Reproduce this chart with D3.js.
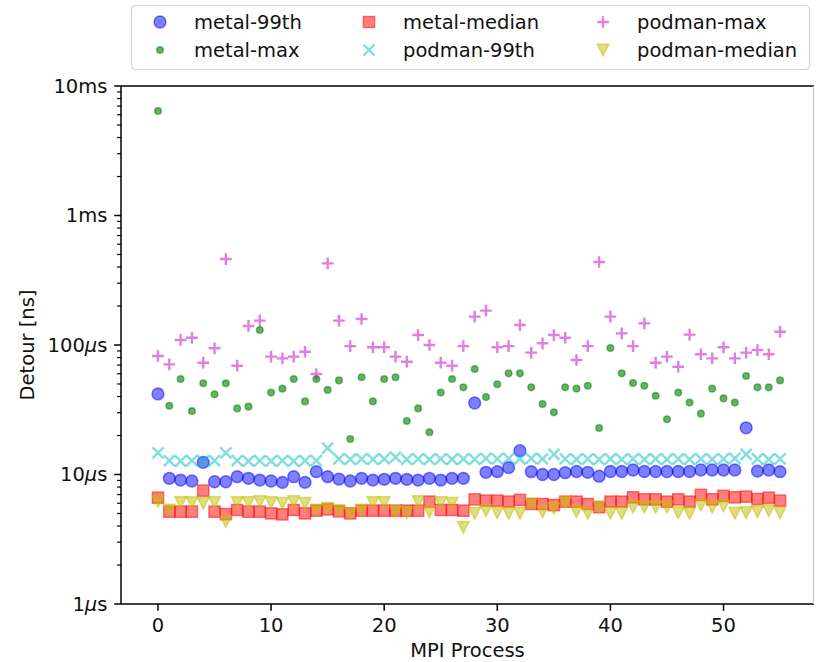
<!DOCTYPE html>
<meta charset="utf-8">
<head>
<style>
  body { margin: 0; background: #fff; }
  text { font-family: "DejaVu Sans", sans-serif; fill: #111; }
</style>
</head>
<body>
<svg width="816" height="662"></svg>

<script src="https://d3js.org/d3.v7.min.js"></script>
<script>
// MPI process ids 0..55
var procs = d3.range(56);

// detour values in ns
var metal99th = [41900, 9350, 9060, 8910, 12420, 8790, 8790, 9620, 9350, 9060,
  8910, 8700, 9620, 8700, 10510, 9620, 9220, 8910, 9350, 9060,
  9180, 9350, 9180, 9060, 9350, 9060, 9350, 9350, 35650, 10400,
  10510, 11300, 15280, 10510, 10000, 10000, 10330, 10550, 10400, 9700,
  10550, 10550, 10830, 10550, 10550, 10550, 10550, 10550, 10830, 10830,
  10830, 10830, 22950, 10620, 10830, 10510];
var metalMax = [6410000, 33960, 54570, 30900, 50600, 41600, 50600, 32400, 33400, 130600,
  42900, 46000, 54570, 36700, 54570, 45000, 53300, 18800, 56400, 36700,
  54570, 56400, 25900, 32400, 21200, 42900, 54570, 47100, 65300, 39600,
  49700, 60400, 60400, 47100, 35000, 30200, 47100, 46000, 48500, 22860,
  94800, 60400, 50900, 48500, 40600, 26700, 42900, 35900, 29500, 46000,
  38700, 35900, 57700, 47100, 47100, 53300];
var metalMedian = [6620, 5160, 5160, 5160, 7500, 5160, 4950, 5320, 5160, 5160,
  5010, 4930, 5320, 5010, 5260, 5380, 5200, 5010, 5260, 5260,
  5260, 5260, 5260, 5260, 6170, 5320, 5320, 5260, 6430, 6280,
  6280, 6170, 6360, 5920, 5920, 5810, 6170, 6170, 5920, 5590,
  6170, 6170, 6670, 6430, 6430, 6170, 6430, 6170, 6950, 6430,
  6830, 6670, 6740, 6470, 6620, 6280];
var podman99th = [14700, 12800, 12700, 12800, 12700, 12800, 14700, 12800, 12700, 12800,
  12700, 12800, 12700, 12800, 12800, 16000, 13200, 13100, 13200, 13100,
  13200, 13600, 13100, 13200, 13100, 13200, 13100, 13200, 13100, 13300,
  13200, 13300, 13200, 13300, 13200, 14300, 13200, 13100, 13200, 13100,
  13200, 13100, 13200, 13100, 13200, 13100, 13200, 13100, 13200, 13100,
  13200, 13300, 14300, 13200, 13100, 13200];
var podmanMax = [82200, 70900, 109400, 113800, 73000, 94400, 461000, 69200, 140300, 154300,
  81300, 78900, 81300, 88700, 59700, 427000, 154300, 98100, 158800, 96000,
  96000, 81300, 74300, 119400, 100000, 73000, 69200, 98100, 165600, 184200,
  96000, 98100, 142600, 87300, 103100, 119400, 113800, 76600, 98100, 437600,
  165600, 123000, 98100, 146900, 73000, 81300, 67900, 120200, 84800, 78900,
  96000, 78900, 87300, 91400, 84800, 126700];
var podmanMedian = [6170, 5320, 6060, 6060, 5990, 6060, 4330, 6060, 6060, 6170,
  6060, 5990, 6170, 5990, 5320, 5480, 5260, 5010, 5320, 6060,
  6060, 5160, 5070, 6170, 5160, 6060, 5990, 3910, 5010, 5260,
  5070, 5010, 5010, 5920, 5160, 5480, 6060, 5160, 5010, 5590,
  5010, 5010, 5590, 5590, 5590, 5590, 5070, 5010, 5810, 5590,
  5710, 5010, 5070, 5160, 5260, 5070];

var xTicks = [0, 10, 20, 30, 40, 50];
var yTicks = [1e3, 1e4, 1e5, 1e6, 1e7];
var yTickLabels = [["1", "s"], ["10", "s"], ["100", "s"], ["1ms"], ["10ms"]];

var series = [
  {name: "metal-99th", values: metal99th, marker: "o", color: "#0000ff"},
  {name: "metal-max", values: metalMax, marker: ".", color: "#008000"},
  {name: "metal-median", values: metalMedian, marker: "s", color: "#ff0000"},
  {name: "podman-99th", values: podman99th, marker: "x", color: "#00bfbf"},
  {name: "podman-max", values: podmanMax, marker: "+", color: "#bf00bf"},
  {name: "podman-median", values: podmanMedian, marker: "v", color: "#bfbf00"}
];

var svg = d3.select("svg"),
    plot = {left: 121, right: 814, top: 86, bottom: 604},
    fs = 19.5;

var x = d3.scaleLinear().domain([-3.27, 58.0]).range([plot.left, plot.right]),
    y = d3.scaleLog().domain([1e3, 1e7]).range([plot.bottom, plot.top]);

// marker path, size in px
function markerPath(m) {
  var h = 5.85;
  if (m == "o") return d3.symbol(d3.symbolCircle, Math.PI * 5.9 * 5.9)();
  if (m == ".") return d3.symbol(d3.symbolCircle, Math.PI * 3.3 * 3.3)();
  if (m == "s") return "M-5.6,-5.6H5.6V5.6H-5.6Z";
  if (m == "v") return "M0," + h + "L" + (-h) + "," + (-h) + "L" + h + "," + (-h) + "Z";
  if (m == "x") return "M-5.5,-5.5L5.5,5.5M-5.5,5.5L5.5,-5.5";
  if (m == "+") return "M-5.85,0H5.85M0,-5.85V5.85";
}
function styleMarker(sel, s) {
  var line = (s.marker == "x" || s.marker == "+");
  sel.attr("d", markerPath(s.marker))
    .attr("fill", line ? "none" : s.color)
    .attr("fill-opacity", s.marker == "." ? 0.6 : 0.5)
    .attr("stroke", s.color)
    .attr("stroke-opacity", 0.5)
    .attr("stroke-width", line ? 2.4 : 1.5);
}

// points
series.forEach(function(s) {
  svg.append("g").selectAll("path")
    .data(procs)
    .enter().append("path")
      .attr("transform", function(d) { return "translate(" + x(d) + "," + y(s.values[d]) + ")"; })
      .call(styleMarker, s);
});

// axes frame
var axis = svg.append("g");
axis.append("line").attr("x1", plot.left).attr("x2", plot.left).attr("y1", plot.top).attr("y2", plot.bottom);
axis.append("line").attr("x1", plot.left).attr("x2", plot.right).attr("y1", plot.bottom).attr("y2", plot.bottom);
axis.append("line").attr("x1", plot.left).attr("x2", plot.right).attr("y1", plot.top).attr("y2", plot.top);
axis.selectAll("line").attr("stroke", "#000").attr("stroke-width", 1.5);
axis.append("line").attr("x1", plot.right - 0.5).attr("x2", plot.right - 0.5)
  .attr("y1", plot.top).attr("y2", plot.bottom)
  .attr("stroke", "#c8c8c8").attr("stroke-width", 1.2);

// x ticks
var xt = svg.append("g").selectAll("g").data(xTicks).enter().append("g")
  .attr("transform", function(d) { return "translate(" + x(d) + "," + plot.bottom + ")"; });
xt.append("line").attr("y2", 6.8).attr("stroke", "#000").attr("stroke-width", 1.5);
xt.append("text").attr("y", 13.6).attr("dy", "0.76em").attr("text-anchor", "middle")
  .style("font-size", fs + "px").text(function(d) { return d; });

// y minor ticks
var minor = [];
yTicks.slice(0, -1).forEach(function(t) { for (var k = 2; k < 10; k++) minor.push(t * k); });
svg.append("g").selectAll("line").data(minor).enter().append("line")
  .attr("x1", plot.left - 3.9).attr("x2", plot.left)
  .attr("y1", function(d) { return y(d); }).attr("y2", function(d) { return y(d); })
  .attr("stroke", "#000").attr("stroke-width", 1.2);

// y major ticks
var yt = svg.append("g").selectAll("g").data(yTicks).enter().append("g")
  .attr("transform", function(d) { return "translate(" + plot.left + "," + y(d) + ")"; });
yt.append("line").attr("x1", -6.8).attr("stroke", "#000").attr("stroke-width", 1.5);
yt.append("text").attr("x", -13.6).attr("dy", "0.35em").attr("text-anchor", "end")
  .style("font-size", fs + "px")
  .each(function(d, i) {
    var lab = yTickLabels[i], t = d3.select(this);
    if (lab.length == 1) { t.text(lab[0]); return; }
    t.append("tspan").text(lab[0]);
    t.append("tspan").style("font-style", "italic").text("\u03bc");
    t.append("tspan").text(lab[1]);
  });

// axis labels
svg.append("text").attr("x", (plot.left + plot.right) / 2).attr("y", 650).attr("dy", "0.35em")
  .attr("text-anchor", "middle").style("font-size", fs + "px").text("MPI Process");
svg.append("text").attr("transform", "translate(27," + (plot.top + plot.bottom) / 2 + ") rotate(-90)")
  .attr("dy", "0.35em").attr("text-anchor", "middle").style("font-size", fs + "px")
  .text("Detour [ns]");

// legend
var lg = svg.append("g");
lg.append("rect").attr("x", 131.5).attr("y", 5.5).attr("width", 678).attr("height", 64)
  .attr("rx", 4).attr("fill", "#fff").attr("stroke", "#d4d4d4").attr("stroke-width", 1.2);
var colX = [160, 369, 603], rowY = [22, 50];
series.forEach(function(s, i) {
  var cx = colX[Math.floor(i / 2)], cy = rowY[i % 2];
  lg.append("path").attr("transform", "translate(" + cx + "," + cy + ")").call(styleMarker, s);
  lg.append("text").attr("x", colX[Math.floor(i / 2)] + 34).attr("y", cy).attr("dy", "0.35em")
    .style("font-size", fs + "px").text(s.name);
});
</script>
</body>
